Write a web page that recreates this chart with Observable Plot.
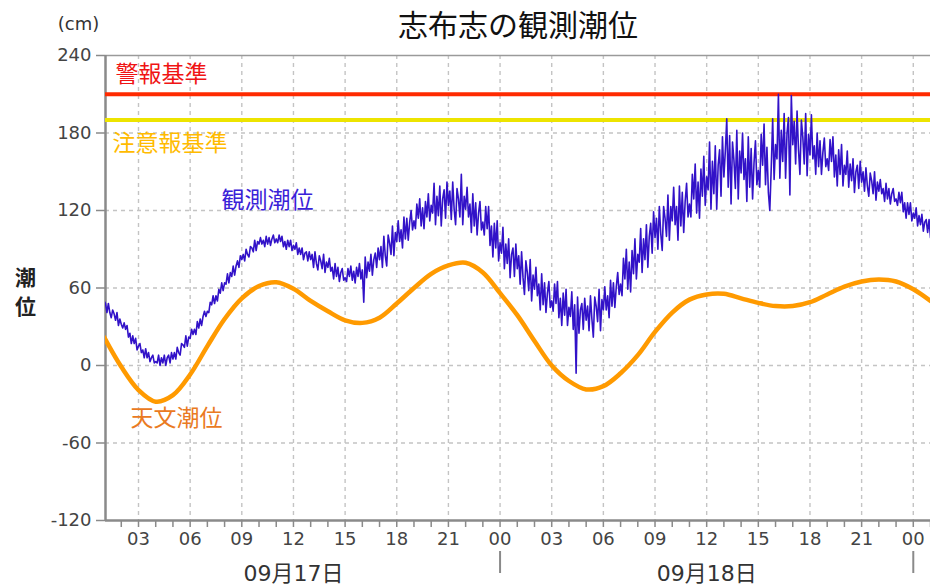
<!DOCTYPE html>
<html>
<head>
<meta charset="utf-8">
<script src="https://cdn.jsdelivr.net/npm/d3@7"></script>
<script src="https://cdn.jsdelivr.net/npm/@observablehq/plot@0.6"></script>
<style>
  body { margin: 0; background: #fff; }
  #chart svg { display: block; }
</style>
</head>
<body>
<div id="chart"></div>
<script>
// 志布志 観測潮位 / 天文潮位 (cm)  9月17日 01時 〜 9月19日 01時

// 天文潮位: 9/17 01:00 から 1時間ごと
const astroTide = [
  22, -1, -19, -28, -23, -7, 15, 36, 52, 61.5,
  64.5, 59.5, 50, 42, 35, 33, 37, 48, 60, 71,
  77.5, 79.5, 72, 56, 39, 19, 0, -12, -18.5, -16,
  -6, 8, 26, 41, 51, 55, 55.5, 52, 48.5, 46,
  46, 49, 55, 61, 65, 66.5, 65, 59, 50
];

// 観測潮位: 9/17 01:00 から 5分ごと (1行 = 1時間分)
const observedTide = [
  50,
  48, 41, 48, 41, 37, 43, 40, 35, 41, 31, 36, 32,
  29, 33, 28, 31, 22, 25, 17, 23, 17, 21, 12, 15,
  17, 10, 12, 6, 13, 6, 10, 3, 6, 8, 2, 3,
  2, 8, 0, 6, 2, 8, 0, 6, 8, 2, 10, 5,
  10, 5, 14, 10, 8, 17, 16, 14, 23, 15, 22, 21,
  28, 24, 28, 24, 34, 29, 36, 31, 38, 42, 38, 42,
  41, 49, 47, 54, 48, 54, 50, 59, 56, 64, 58, 64,
  63, 71, 64, 72, 69, 77, 70, 77, 81, 76, 85, 82,
  86, 81, 90, 86, 84, 92, 91, 88, 97, 89, 96, 94,
  99, 94, 97, 92, 100, 94, 99, 93, 98, 101, 95, 98,
  95, 101, 96, 100, 92, 96, 90, 97, 92, 97, 89, 93,
  90, 95, 86, 91, 86, 91, 82, 87, 88, 81, 88, 82,
  86, 76, 88, 79, 74, 85, 81, 75, 86, 72, 80, 76,
  83, 73, 76, 67, 79, 69, 76, 65, 72, 75, 66, 68,
  65, 75, 69, 77, 66, 73, 64, 76, 69, 79, 67, 74,
  49, 84, 68, 80, 73, 86, 70, 82, 87, 76, 91, 82,
  92, 76, 100, 85, 77, 101, 95, 86, 108, 85, 103, 96,
  112, 96, 105, 91, 115, 98, 114, 97, 111, 120, 105, 112,
  106, 125, 114, 129, 108, 122, 106, 127, 115, 133, 112, 124,
  118, 141, 109, 131, 116, 139, 108, 129, 136, 114, 142, 124,
  135, 113, 142, 121, 109, 137, 129, 115, 148, 109, 131, 121,
  138, 115, 125, 103, 133, 108, 126, 101, 118, 127, 105, 111,
  101, 123, 106, 123, 93, 108, 84, 110, 91, 112, 81, 95,
  87, 107, 75, 94, 79, 98, 68, 86, 91, 69, 94, 75,
  85, 63, 88, 68, 55, 81, 72, 58, 82, 50, 70, 59,
  76, 54, 63, 43, 71, 47, 64, 41, 56, 65, 45, 50,
  42, 63, 48, 65, 37, 52, 31, 56, 39, 59, 31, 45,
  38, 57, 28, 47, -6, 53, 25, 43, 48, 28, 52, 35,
  46, 27, 54, 36, 22, 53, 46, 34, 59, 27, 51, 43,
  61, 43, 54, 37, 66, 46, 64, 45, 61, 72, 55, 63,
  54, 83, 67, 90, 59, 80, 57, 89, 71, 98, 67, 86,
  80, 106, 72, 98, 82, 109, 76, 100, 110, 87, 119, 99,
  114, 90, 123, 102, 89, 123, 114, 100, 132, 97, 123, 112,
  138, 109, 123, 97, 139, 108, 134, 103, 127, 141, 115, 125,
  115, 148, 129, 156, 118, 142, 114, 152, 131, 162, 124, 146,
  136, 173, 121, 158, 133, 170, 121, 155, 167, 131, 177, 146,
  166, 191, 138, 178, 125, 173, 159, 137, 182, 129, 166, 149,
  180, 144, 160, 127, 177, 138, 168, 129, 157, 174, 140, 151,
  138, 179, 155, 187, 140, 169, 134, 120, 153, 191, 144, 171,
  160, 210, 145, 182, 158, 195, 145, 180, 192, 132, 209, 171,
  189, 156, 197, 167, 148, 190, 177, 156, 195, 147, 179, 163,
  194, 160, 170, 148, 180, 154, 174, 148, 165, 176, 154, 160,
  151, 175, 158, 177, 146, 163, 139, 167, 148, 171, 139, 155,
  148, 166, 138, 156, 143, 160, 134, 150, 155, 137, 158, 142,
  150, 135, 153, 139, 131, 149, 143, 133, 150, 128, 142, 135,
  144, 133, 137, 127, 141, 129, 137, 125, 133, 137, 127, 129,
  124, 134, 126, 134, 119, 126, 114, 126, 117, 126, 112, 118,
  114, 122, 108, 116, 109, 117, 104, 111, 113, 103, 113, 99
];

// 基準値 (cm)
const warningLevel = 210;   // 警報基準
const advisoryLevel = 190;  // 注意報基準

// 軸の目盛
const yTicks = [-120, -60, 0, 60, 120, 180, 240];
const yGrid = [-60, 0, 60, 120, 180];
const dateLabels = ["09月17日", "09月18日"];

// 時刻 (UTC として扱う)
const HOUR = 3600e3;
const day0 = Date.UTC(2024, 8, 17);
const astroRows = astroTide.map((v, i) => ({time: new Date(day0 + (i + 1) * HOUR), value: v}));
const observedRows = observedTide.map((v, i) => ({time: new Date(day0 + HOUR + i * 300e3), value: v}));
const xDomain = [new Date(day0 + HOUR + 5 * 60e3), new Date(day0 + 49 * HOUR)];
const hourTicks = d3.utcHour.range(new Date(day0 + 2 * HOUR), new Date(day0 + 49 * HOUR + 1));
const majorTicks = d3.utcHour.every(3).range(new Date(day0 + 3 * HOUR), new Date(day0 + 48 * HOUR + 1));
const midnights = [new Date(day0 + 24 * HOUR), new Date(day0 + 48 * HOUR)];
const dateNoons = dateLabels.map((d, i) => ({label: d, time: new Date(day0 + (i * 24 + 12) * HOUR)}));

const axisGray = "#8a8a8a";
const gridGray = "#c4c4c4";
const cjk = "'Noto Sans CJK JP', sans-serif";
const mixed = "'DejaVu Sans', 'Noto Sans CJK JP', sans-serif";

const chart = Plot.plot({
  width: 930,
  height: 584,
  marginLeft: 105,
  marginRight: 0,
  marginTop: 55,
  marginBottom: 64,
  style: {
    fontFamily: mixed,
    fontSize: "18px",
    color: "#444",
    background: "#fff",
    overflow: "visible"
  },
  x: {type: "utc", domain: xDomain},
  y: {domain: [-120, 240]},
  marks: [
    // 破線グリッド
    Plot.gridX({ticks: majorTicks, stroke: gridGray, strokeOpacity: 1, strokeWidth: 1.4, strokeDasharray: "4,4"}),
    Plot.gridY({ticks: yGrid, stroke: gridGray, strokeOpacity: 1, strokeWidth: 1.4, strokeDasharray: "4,4"}),

    // 縦軸
    Plot.axisY({ticks: yTicks, tickSize: 9, tickPadding: 5, tickFormat: (d) => String(d), stroke: axisGray, strokeWidth: 1.5, fill: "#444", fontSize: 18, label: null}),

    // 横軸: 1時間ごとの目盛と 3時間ごとのラベル
    Plot.axisX({ticks: hourTicks, tickSize: 7, tickFormat: () => "", stroke: axisGray, strokeWidth: 1.5, label: null}),
    Plot.axisX({ticks: majorTicks, tickSize: 0, tickPadding: 12, tickFormat: d3.utcFormat("%H"), fill: "#444", fontSize: 18, label: null}),

    // 日付の区切り線と日付ラベル
    Plot.ruleX(midnights, {insetTop: 443, dy: 53, stroke: axisGray, strokeWidth: 2}),
    Plot.text(dateNoons, {x: "time", text: "label", frameAnchor: "bottom", lineAnchor: "middle", dy: 53, fontSize: 22, fill: "#333", fontFamily: mixed}),

    // 枠線
    Plot.ruleY([240], {stroke: "#9a9a9a", strokeWidth: 1.5}),
    Plot.ruleY([-120], {stroke: axisGray, strokeWidth: 2.5}),
    Plot.ruleX([xDomain[0]], {stroke: axisGray, strokeWidth: 2.5}),

    // 基準線
    Plot.ruleY([warningLevel], {stroke: "#ff2a00", strokeWidth: 4}),
    Plot.ruleY([advisoryLevel], {stroke: "#ede400", strokeWidth: 4}),

    // 天文潮位と観測潮位
    Plot.line(astroRows, {x: "time", y: "value", stroke: "#ff9a00", strokeWidth: 4.5, curve: "catmull-rom", clip: true}),
    Plot.line(observedRows, {x: "time", y: "value", stroke: "#3212c8", strokeWidth: 1.6, clip: true}),

    // 系列ラベル
    Plot.text(["警報基準"], {frameAnchor: "top-left", lineAnchor: "middle", textAnchor: "start", dx: 10, dy: 19, fill: "#f01414", fontSize: 23, fontFamily: cjk}),
    Plot.text(["注意報基準"], {frameAnchor: "top-left", lineAnchor: "middle", textAnchor: "start", dx: 7, dy: 88, fill: "#ffbb00", fontSize: 23, fontFamily: cjk}),
    Plot.text(["観測潮位"], {frameAnchor: "top-left", lineAnchor: "middle", textAnchor: "start", dx: 116, dy: 145, fill: "#3a22d8", fontSize: 23, fontFamily: cjk}),
    Plot.text(["天文潮位"], {frameAnchor: "top-left", lineAnchor: "middle", textAnchor: "start", dx: 25, dy: 363, fill: "#ea7a22", fontSize: 23, fontFamily: cjk}),

    // タイトル・単位・縦軸名
    Plot.text(["志布志の観測潮位"], {frameAnchor: "top", lineAnchor: "middle", textAnchor: "middle", dy: -29, fontSize: 30, fill: "#111", fontFamily: cjk}),
    Plot.text(["(cm)"], {frameAnchor: "top-left", lineAnchor: "middle", textAnchor: "middle", dx: -27, dy: -31, fontSize: 18, fill: "#333"}),
    Plot.text(["潮"], {frameAnchor: "left", lineAnchor: "middle", textAnchor: "middle", dx: -80, dy: -10, fontSize: 21, fontWeight: "bold", fill: "#222", fontFamily: cjk}),
    Plot.text(["位"], {frameAnchor: "left", lineAnchor: "middle", textAnchor: "middle", dx: -80, dy: 19, fontSize: 21, fontWeight: "bold", fill: "#222", fontFamily: cjk})
  ]
});

document.getElementById("chart").append(chart);
</script>
</body>
</html>
